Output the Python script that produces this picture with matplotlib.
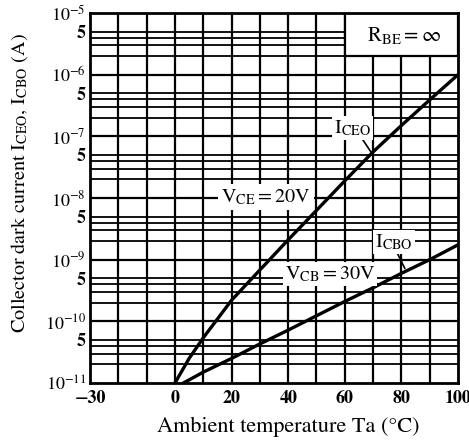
import numpy as np
import matplotlib
matplotlib.use("Agg")
import matplotlib.pyplot as plt
from matplotlib.patches import Rectangle
from matplotlib.ticker import FixedLocator, FixedFormatter

plt.rcParams['font.family'] = ['STIXGeneral', 'DejaVu Serif']
plt.rcParams['mathtext.fontset'] = 'stix'

# 데이터
temp_ceo = [0, 5, 10, 20, 30, 40, 50, 60, 70, 80, 90, 100]
i_ceo = [1.0e-11, 2.5e-11, 5.4e-11, 2.2e-10, 6.8e-10, 2.1e-9, 6.3e-9,
         1.9e-8, 5.6e-8, 1.5e-7, 3.9e-7, 1.0e-6]

temp_cbo = [3, 10, 20, 30, 40, 50, 60, 70, 80, 90, 100]
i_cbo = [1.0e-11, 1.5e-11, 2.5e-11, 4.3e-11, 7.2e-11, 1.23e-10, 2.1e-10,
         3.5e-10, 6.0e-10, 1.0e-9, 1.74e-9]

x_ticks = [-30, 0, 20, 40, 60, 80, 100]
x_ticklabels = ['−30', '0', '20', '40', '60', '80', '100']
y_ticks = [1e-11, 5e-11, 1e-10, 5e-10, 1e-9, 5e-9, 1e-8, 5e-8, 1e-7, 5e-7, 1e-6, 5e-6, 1e-5]
y_ticklabels = [r'$10^{-11}$', '5', r'$10^{-10}$', '5', r'$10^{-9}$', '5', r'$10^{-8}$',
                '5', r'$10^{-7}$', '5', r'$10^{-6}$', '5', r'$10^{-5}$']

fig = plt.figure(figsize=(4.69, 4.42), dpi=100)
ax = fig.add_axes([0.192, 0.1335, 0.7845, 0.837])

ax.set_yscale('log')
ax.set_xlim(-30, 100)
ax.set_ylim(1e-11, 1e-5)

# 격자선
for t in range(-20, 100, 10):
    ax.axvline(t, color='black', lw=1.6, zorder=1)
for dec in range(-11, -5):
    for m in [1, 2, 3, 4, 5]:
        v = m * 10.0 ** dec
        if 1e-11 < v < 1e-5:
            ax.axhline(v, color='black', lw=1.3 if m > 1 else 1.6, zorder=1)

ax.plot(temp_ceo, i_ceo, color='black', lw=2.4, zorder=3)
ax.plot(temp_cbo, i_cbo, color='black', lw=2.4, zorder=3)

ax.xaxis.set_major_locator(FixedLocator(x_ticks))
ax.xaxis.set_major_formatter(FixedFormatter(x_ticklabels))
ax.yaxis.set_major_locator(FixedLocator(y_ticks))
ax.yaxis.set_major_formatter(FixedFormatter(y_ticklabels))
ax.yaxis.set_minor_locator(FixedLocator([]))
ax.tick_params(axis='x', length=0, labelsize=13, pad=5)
ax.tick_params(axis='y', length=0, labelsize=13, pad=3)
for lab in ax.get_xticklabels() + ax.get_yticklabels():
    lab.set_fontweight('bold')

for s in ax.spines.values():
    s.set_linewidth(2)

# R_BE 상자
ax.add_patch(Rectangle((60, 2e-6), 40, 8e-6, facecolor='white', edgecolor='black',
                       lw=1.6, zorder=2))
ax.text(80.9, 10 ** -5.36, r'$\mathrm{R_{BE}}=\infty$', fontsize=15,
        ha='center', va='center', zorder=5)

box = dict(facecolor='white', edgecolor='none', pad=1.5)
ax.text(62.8, 10 ** -6.87, r'$\mathrm{I_{CEO}}$', fontsize=14.5, ha='center', va='center',
        zorder=5, bbox=box)
ax.text(32.2, 10 ** -7.98, r'$\mathrm{V_{CE}=20V}$', fontsize=14.5, ha='center', va='center',
        zorder=5, bbox=dict(facecolor='white', edgecolor='none', boxstyle='square,pad=0.15'))
ax.text(77.4, 10 ** -8.71, r'$\mathrm{I_{CBO}}$', fontsize=14.5, ha='center', va='center',
        zorder=5, bbox=box)
ax.text(54.8, 10 ** -9.23, r'$\mathrm{V_{CB}=30V}$', fontsize=14.5, ha='center', va='center',
        zorder=5, bbox=dict(facecolor='white', edgecolor='none', boxstyle='square,pad=0.1'))

# 지시선
ax.plot([66.0, 69.5], [10 ** -7.03, 10 ** -7.27], color='black', lw=1.2, zorder=4)
ax.plot([78.3, 81.2], [10 ** -8.87, 10 ** -9.14], color='black', lw=1.2, zorder=4)

ax.set_xlabel('Ambient temperature Ta (°C)', fontsize=16)
ax.set_ylabel(r'Collector dark current $\mathrm{I_{CEO}}$, $\mathrm{I_{CBO}}$ (A)', fontsize=14.5)
ax.xaxis.set_label_coords(0.54, -0.092)
ax.yaxis.set_label_coords(-0.163, 0.54)

fig.savefig('out.png', dpi=100)
